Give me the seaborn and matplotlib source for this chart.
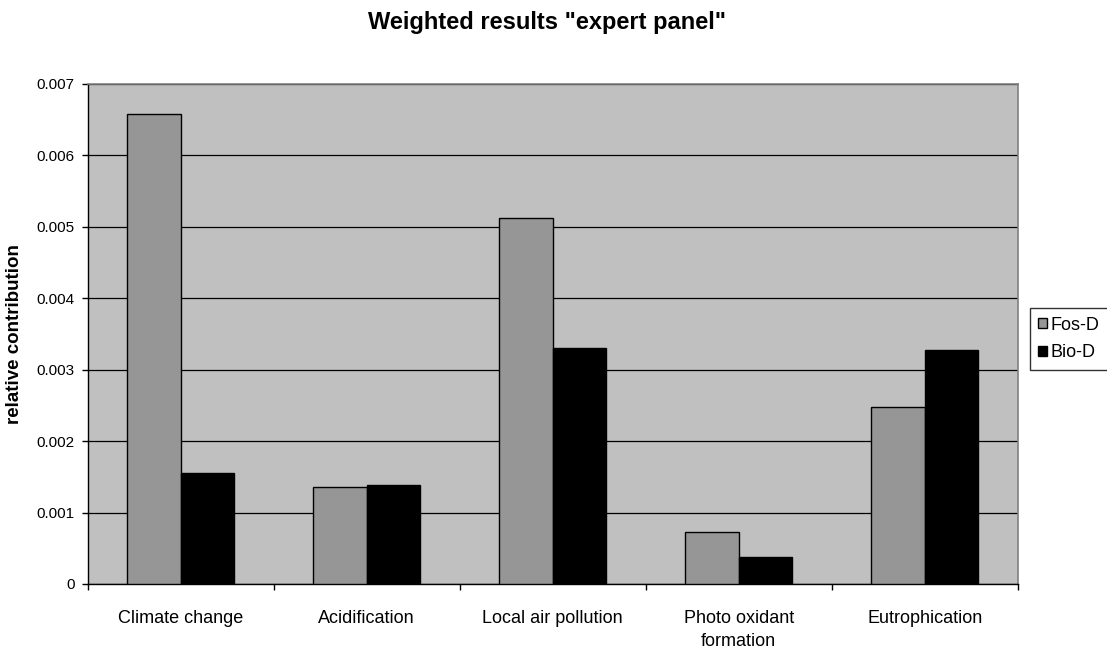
import matplotlib
matplotlib.use("Agg")
import matplotlib.pyplot as plt
import seaborn as sns
import pandas as pd
import numpy as np

categories = ["Climate change", "Acidification", "Local air pollution",
              "Photo oxidant\nformation", "Eutrophication"]
series_names = ["Fos-D", "Bio-D"]
fos_d = [0.00658, 0.00136, 0.00513, 0.00073, 0.00248]
bio_d = [0.00155, 0.00138, 0.00331, 0.00038, 0.00328]
y_ticks = [0, 0.001, 0.002, 0.003, 0.004, 0.005, 0.006, 0.007]
y_tick_labels = ["0", "0.001", "0.002", "0.003", "0.004", "0.005", "0.006", "0.007"]

df = pd.DataFrame({
    "category": categories * 2,
    "series": [series_names[0]] * len(categories) + [series_names[1]] * len(categories),
    "value": fos_d + bio_d,
})

sns.set_theme(style="white")
plt.rcParams["font.family"] = ["Liberation Sans", "DejaVu Sans"]
plt.rcParams.update({
    "text.color": "black",
    "axes.labelcolor": "black",
    "xtick.color": "black",
    "ytick.color": "black",
})

fig = plt.figure(figsize=(11.07, 6.52), dpi=100)
ax = fig.add_axes([0.0792, 0.1043, 0.8401, 0.7669])
ax.set_facecolor("#C0C0C0")

sns.barplot(data=df, x="category", y="value", hue="series",
            order=categories, hue_order=series_names,
            palette={"Fos-D": "#969696", "Bio-D": "#000000"},
            width=0.575, gap=0, edgecolor="black", linewidth=1.0,
            errorbar=None, ax=ax, legend=True, zorder=3)

ax.set_ylim(0, 0.007)
ax.set_xlim(-0.5, len(categories) - 0.5)
ax.set_yticks(y_ticks)
ax.set_yticklabels(y_tick_labels, fontsize=11)
ax.yaxis.grid(True, color="black", linewidth=0.9, zorder=0)
ax.set_axisbelow(True)

# category labels centered, tick marks at the category boundaries
ax.set_xticks(range(len(categories)))
ax.set_xticklabels(categories, fontsize=13, linespacing=1.45)
ax.tick_params(axis="x", which="major", length=0, pad=19)
ax.set_xticks(np.arange(-0.5, len(categories), 1.0), minor=True)
ax.tick_params(axis="x", which="minor", length=4.5, width=1, color="black",
               direction="out", bottom=True)
ax.tick_params(axis="y", length=4.5, width=1, color="black", direction="out",
               left=True, pad=5)

ax.set_xlabel("")
ax.set_ylabel("relative contribution", fontsize=13.5, fontweight="bold",
              va="center", ha="center")
ax.yaxis.set_label_coords(-0.0782, 0.5)

for side in ["left", "bottom"]:
    ax.spines[side].set_color("black")
    ax.spines[side].set_linewidth(1.0)
for side in ["top", "right"]:
    ax.spines[side].set_color("#808080")
    ax.spines[side].set_linewidth(1.2)

fig.text(546.5 / 1107, 1 - 23 / 652, 'Weighted results "expert panel"',
         ha="center", va="center", fontsize=17, fontweight="bold")

leg = ax.legend(loc="center left", bbox_to_anchor=(1.0132, 0.49), frameon=True,
                fontsize=13, fancybox=False, edgecolor="black",
                handlelength=0.5, handleheight=0.5, handletextpad=0.2,
                borderpad=0.45, labelspacing=0.6, borderaxespad=0)
leg.get_frame().set_linewidth(1.0)
leg.get_frame().set_facecolor("white")

fig.savefig("out.png", dpi=100)
